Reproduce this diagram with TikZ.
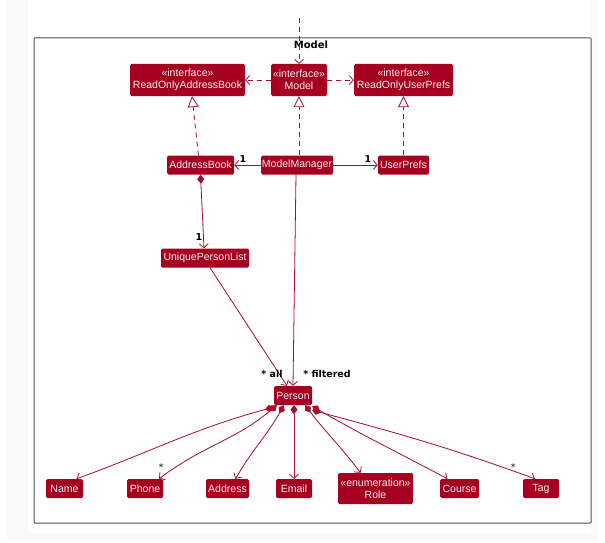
\documentclass[tikz,border=0pt]{standalone}
\usepackage{fontspec}
\setmainfont{Liberation Sans}
\newfontfamily\lblfont{DejaVu Sans}
\usetikzlibrary{arrows.meta}
\definecolor{umlred}{RGB}{166,0,32}
\definecolor{umlline}{RGB}{170,10,45}
\definecolor{umltext}{RGB}{245,240,240}
\definecolor{framegray}{RGB}{80,80,80}
\definecolor{margingray}{RGB}{250,250,250}
\tikzset{
  cls/.style={rectangle, rounded corners=1.5pt, fill=umlred, text=umltext, inner sep=0pt,
    font=\fontsize{10.5}{12}\selectfont, align=center},
  conn/.style={draw=umlline, line width=0.8pt},
  dep/.style={conn, dash pattern=on 5pt off 4pt, -{Straight Barb[length=4pt,width=9pt]}},
  real/.style={conn, dash pattern=on 5pt off 4pt, -{Triangle[open,length=11pt,width=11pt,fill=white]}},
  assoc/.style={conn, -{Straight Barb[length=4pt,width=9pt]}},
  comp/.style={conn, {Diamond[length=9pt,width=7pt]}-{Straight Barb[length=4pt,width=9pt]}},
  mult/.style={font=\lblfont\bfseries\fontsize{9.5}{11}\selectfont, text=black, inner sep=0pt},
  star/.style={font=\lblfont\fontsize{9}{10}\selectfont, text=black, inner sep=0pt},
}
\begin{document}
\begin{tikzpicture}[x=1pt,y=-1pt]
\useasboundingbox (0,0) rectangle (605,543);
\fill[white] (0,0) rectangle (605,543);
\fill[margingray] (7,0) rectangle (598,540);
\fill[white] (28,0) rectangle (591,533);
% package frame
\draw[framegray, line width=1pt, rounded corners=0.8pt] (34,38) rectangle (591,523);
\node[font=\lblfont\bfseries\fontsize{10}{12}\selectfont, inner sep=0pt] (pkg) at (311,45) {Model};

% classes
\node[cls, minimum width=115pt, minimum height=32pt] (roab) at (187.5,80) {«interface»\\ReadOnlyAddressBook};
\node[cls, minimum width=56pt, minimum height=32pt] (model) at (299,80) {«interface»\\Model};
\node[cls, minimum width=99pt, minimum height=32pt] (roup) at (403.5,80) {«interface»\\ReadOnlyUserPrefs};
\node[cls, minimum width=67pt, minimum height=19pt] (ab) at (200.5,165) {AddressBook};
\node[cls, minimum width=72pt, minimum height=19pt] (mm) at (297,165) {ModelManager};
\node[cls, minimum width=51pt, minimum height=19pt] (up) at (403.5,165) {UserPrefs};
\node[cls, minimum width=88pt, minimum height=19pt] (upl) at (205,258) {UniquePersonList};
\node[cls, minimum width=38pt, minimum height=19pt] (person) at (293,395.5) {Person};
\node[cls, minimum width=37pt, minimum height=19pt] (name) at (64.5,488.5) {Name};
\node[cls, minimum width=36pt, minimum height=19pt] (phone) at (145,488.5) {Phone};
\node[cls, minimum width=43pt, minimum height=19pt] (address) at (227.5,488.5) {Address};
\node[cls, minimum width=36pt, minimum height=19pt] (email) at (294,488.5) {Email};
\node[cls, minimum width=75pt, minimum height=31pt] (role) at (375.5,488.5) {«enumeration»\\Role};
\node[cls, minimum width=39pt, minimum height=19pt] (course) at (459.5,488.5) {Course};
\node[cls, minimum width=36pt, minimum height=19pt] (tag) at (541,488.5) {Tag};

% incoming dependency from outside
\coordinate (ext) at (299,18);
\draw[dep] (ext) -- (model.north);

% interface dependencies
\draw[dep] (model) -- (roab);
\draw[dep] (model) -- (roup);

% realizations
\draw[real] ([xshift=-2pt]ab.north) -- ([xshift=4.5pt]roab.south);
\draw[real] (model.south |- mm.north) -- (model.south);
\draw[real] (up.north) -- (roup.south);

% associations
\draw[assoc] (mm) -- (ab);
\draw[assoc] (mm) -- (up);
\node[mult] (m1) at (243,159) {1};
\node[mult] (m2) at (368,159) {1};

\draw[comp] (ab.south) -- ([xshift=-1pt]upl.north);
\node[mult] (m3) at (199,237) {1};

\draw[assoc] ([xshift=5pt]upl.south) -- ([xshift=-6pt]person.north);
\draw[assoc] ([xshift=-1pt]mm.south) -- (person.north);
\node[mult] (lall) at (272,374) {* all};
\node[mult] (lfil) at (327,374) {* filtered};

% compositions from Person
\draw[comp] ([yshift=-2pt]person.south west) to[out=195, in=20] ([xshift=12pt]name.north);
\draw[comp] ([xshift=3pt]person.south west) to[out=220, in=37] ([xshift=14pt]phone.north);
\draw[comp] ([xshift=10pt]person.south west) to[out=241, in=60] ([xshift=8pt]address.north);
\draw[comp] (person.south -| email.north) -- (email.north);
\draw[comp] ([xshift=-7pt]person.south east) to[out=-53, in=127] ([xshift=-15pt]role.north);
\draw[comp] ([yshift=-1pt]person.south east) to[out=-30, in=152] ([xshift=-12pt]course.north);
\draw[comp] ([yshift=-5pt]person.south east) to[out=-15, in=160] ([xshift=-6pt]tag.north);
\node[star] (sphone) at (161,467) {*};
\node[star] (stag) at (513,467) {*};
\end{tikzpicture}
\end{document}
